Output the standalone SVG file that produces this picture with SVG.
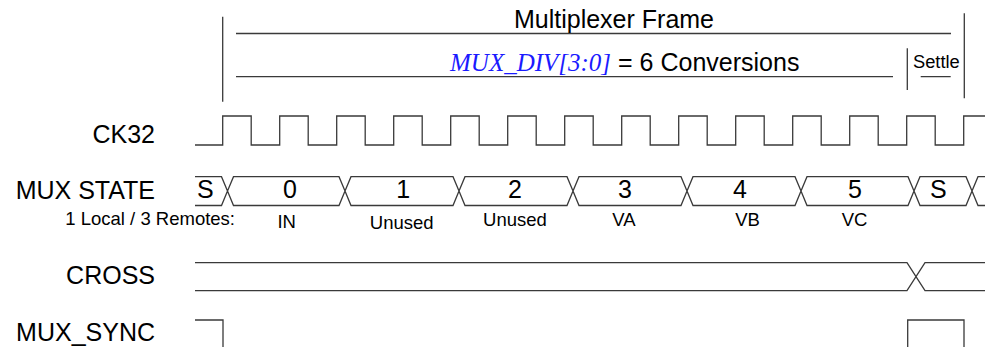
<svg xmlns="http://www.w3.org/2000/svg" width="985" height="347" viewBox="0 0 985 347">
<style>
.ln{fill:none;stroke:#3a3a3a;stroke-width:1.3}
.lbl{font-family:"Liberation Sans",Arial,sans-serif;font-size:25px;fill:#000}
.val{font-family:"Liberation Sans",Arial,sans-serif;font-size:25px;fill:#000;text-anchor:middle}
.sub{font-family:"Liberation Sans",Arial,sans-serif;font-size:18.5px;fill:#000;text-anchor:middle}
.reg{font-family:"Liberation Serif","Times New Roman",serif;font-style:italic;fill:#1a1aff}
</style>
<rect width="985" height="347" fill="#fff"/>
<g id="frame">
<path class="ln" d="M222.7,16.7V101.7M964.3,13.3V98.3M236,33.5H951M236,76.7H893M907.3,48.3V90M920.7,76.7H950.7"/>
<text class="val" x="614" y="27.5">Multiplexer Frame</text>
<text class="lbl" x="450" y="71"><tspan class="reg">MUX_DIV[3:0]</tspan> = 6 Conversions</text>
<text class="lbl" x="913" y="68.3" style="font-size:18.3px">Settle</text>
</g>
<g id="ck32">
<text class="lbl" x="155" y="142.7" text-anchor="end">CK32</text>
<path class="ln" d="M195,145H222.7V116H251.2V145H279.7V116H308.2V145H336.7V116H365.2V145H393.7V116H422.2V145H450.7V116H479.2V145H507.7V116H536.2V145H564.7V116H593.2V145H621.7V116H650.2V145H678.7V116H707.2V145H735.7V116H764.2V145H792.7V116H821.2V145H849.7V116H878.2V145H906.7V116H935.2V145H963.7V116H985"/>
</g>
<g id="mux_state">
<text class="lbl" x="155" y="199.3" text-anchor="end">MUX STATE</text>
<path class="ln" d="M195,176.7H221.5L227.5,191L221.5,205.5H195
M227.5,191L233.5,176.7H339L345,191L339,205.5H233.5Z
M345,191L351,176.7H453L459,191L453,205.5H351Z
M459,191L465,176.7H567L573,191L567,205.5H465Z
M573,191L579,176.7H681L687,191L681,205.5H579Z
M687,191L693,176.7H795L801,191L795,205.5H693Z
M801,191L807,176.7H908L914,191L908,205.5H807Z
M914,191L920,176.7H966L972,191L966,205.5H920Z
M985,176.7H978L972,191L978,205.5H985"/>
<text class="lbl" x="197" y="198.3">S</text>
<text class="val" x="290" y="198.3">0</text>
<text class="val" x="403.3" y="198.3">1</text>
<text class="val" x="515" y="198.3">2</text>
<text class="val" x="625" y="198.3">3</text>
<text class="val" x="740" y="198.3">4</text>
<text class="val" x="855" y="198.3">5</text>
<text class="val" x="938.3" y="198.3">S</text>
<text class="sub" x="235" y="225" text-anchor="end" style="text-anchor:end">1 Local / 3 Remotes:</text>
<text class="sub" x="286.7" y="228">IN</text>
<text class="sub" x="401.7" y="228.5">Unused</text>
<text class="sub" x="515" y="226">Unused</text>
<text class="sub" x="624" y="226">VA</text>
<text class="sub" x="747.5" y="226">VB</text>
<text class="sub" x="854.5" y="226">VC</text>
</g>
<g id="cross">
<text class="lbl" x="155" y="284.3" text-anchor="end">CROSS</text>
<path class="ln" d="M195,262.7H907L925,290.7H985M195,290.7H907L925,262.7H985"/>
</g>
<g id="mux_sync">
<text class="lbl" x="155" y="340.7" text-anchor="end">MUX_SYNC</text>
<path class="ln" d="M195,320H223V348M907.7,348V320H964V348"/>
</g>
<g id="connectors"></g>
</svg>
